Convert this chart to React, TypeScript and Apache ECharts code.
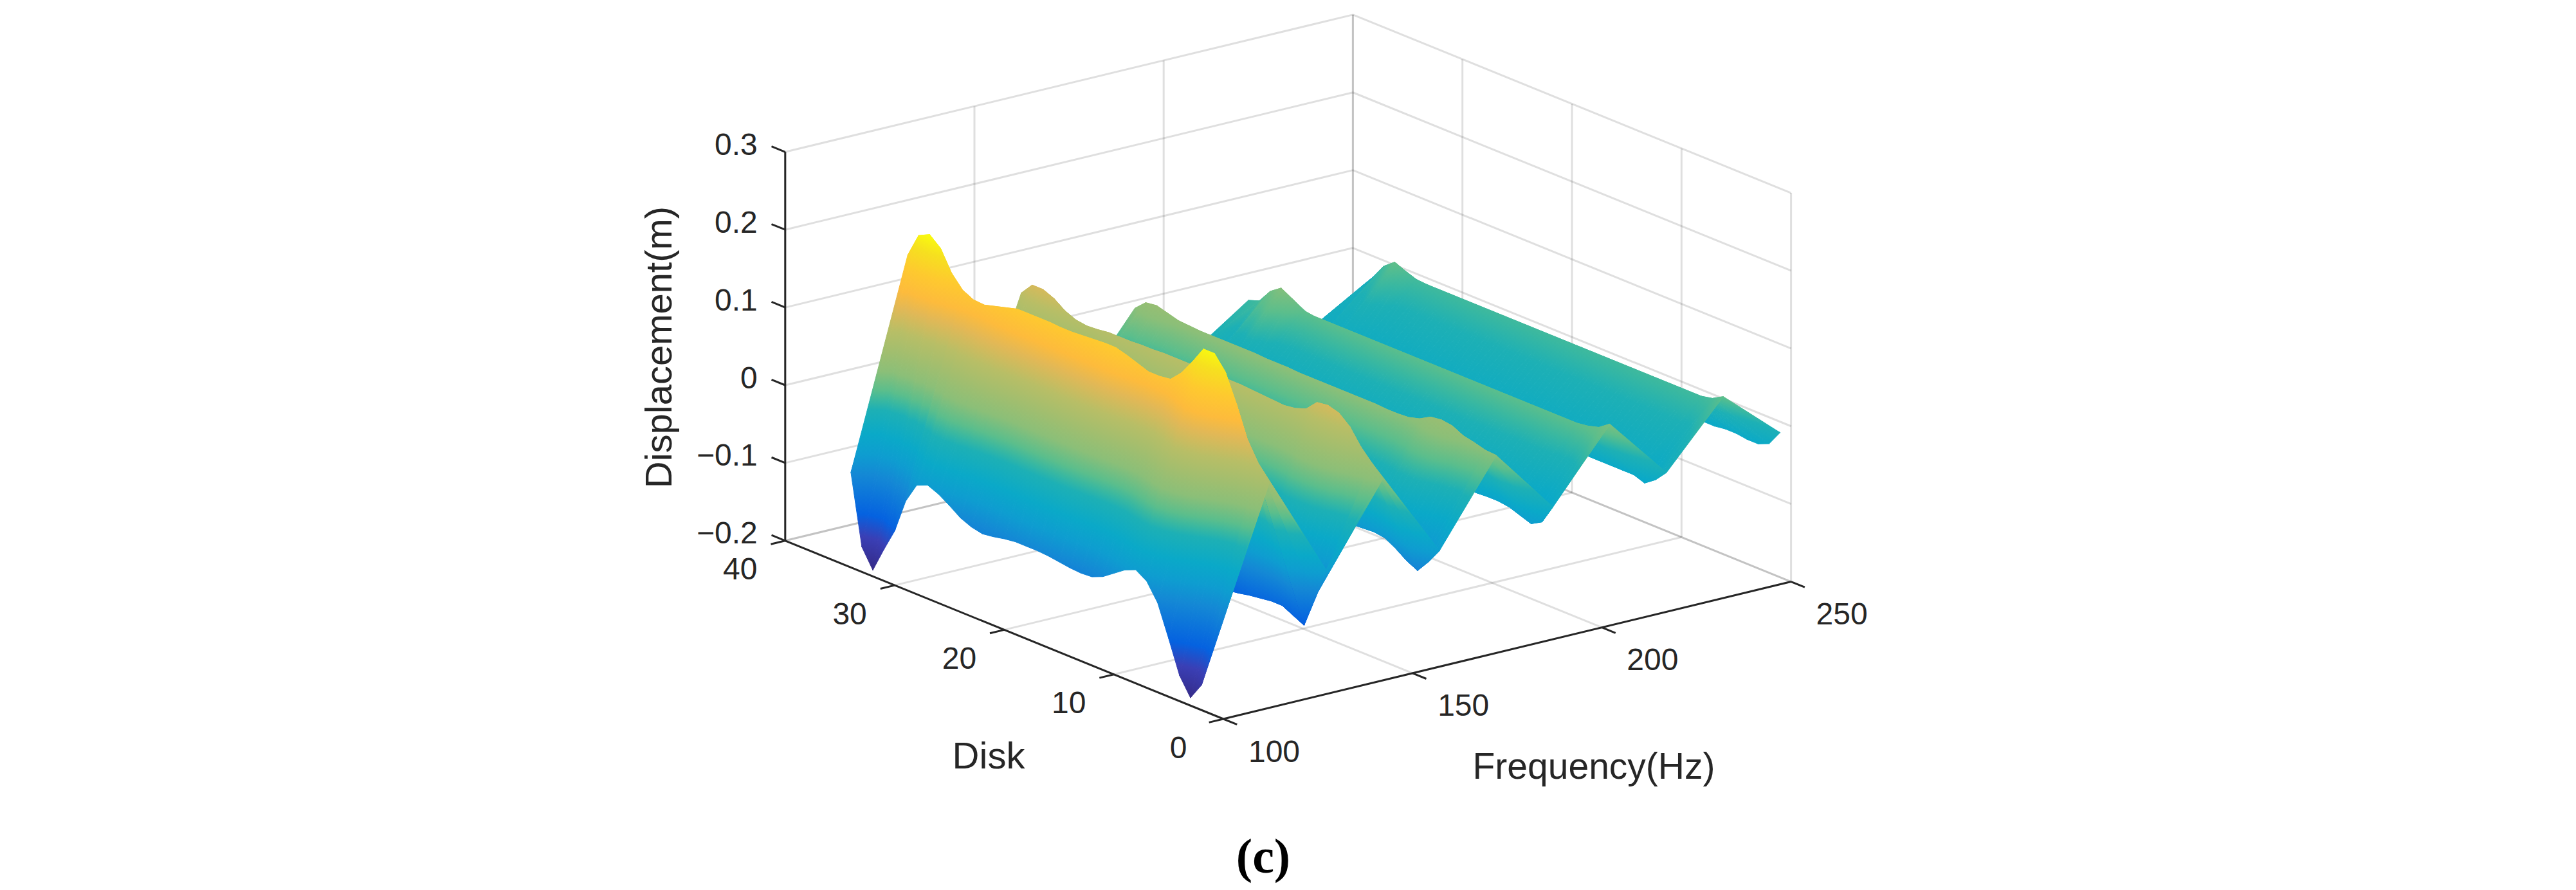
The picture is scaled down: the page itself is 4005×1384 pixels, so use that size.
import React, { useEffect, useRef } from "react";
import * as echarts from "echarts";

// ---- data ----
const freqTicks = [100, 150, 200, 250];
const diskTicks = [0, 10, 20, 30, 40];
const dispTicks = [-0.2, -0.1, 0, 0.1, 0.2, 0.3];
const dispTickLabels = ["\u22120.2", "\u22120.1", "0", "0.1", "0.2", "0.3"];

const disks = [1, 2, 3, 4, 5, 6, 7, 8, 9, 10, 11, 12, 13, 14, 15, 16, 17, 18, 19, 20, 21, 22, 23, 24, 25, 26, 27, 28, 29, 30, 31, 32, 33, 34];
const freqs = [100, 115, 130, 145, 160, 175, 190, 205, 220, 235, 250];

const z100 = [-0.118, -0.168, -0.19, -0.167, -0.125, -0.085, -0.063, -0.054, -0.06, -0.07, -0.08, -0.086, -0.087, -0.086, -0.084, -0.082, -0.081, -0.081, -0.081, -0.083, -0.086, -0.088, -0.085, -0.079, -0.069, -0.06, -0.054, -0.06, -0.086, -0.13, -0.16, -0.192, -0.168, -0.078];
const z115 = [0.08, 0.1, 0.125, 0.165, 0.2, 0.218, 0.218, 0.196, 0.176, 0.162, 0.16, 0.16, 0.165, 0.17, 0.174, 0.174, 0.173, 0.172, 0.171, 0.171, 0.172, 0.172, 0.172, 0.172, 0.168, 0.164, 0.16, 0.161, 0.168, 0.184, 0.21, 0.222, 0.215, 0.184];
const z130 = [-0.049, -0.09, -0.132, -0.125, -0.118, -0.118, -0.12, -0.122, -0.125, -0.127, -0.126, -0.125, -0.123, -0.12, -0.12, -0.12, -0.12, -0.12, -0.12, -0.12, -0.12, -0.12, -0.12, -0.12, -0.12, -0.12, -0.12, -0.12, -0.12, -0.125, -0.13, -0.13, -0.12, -0.1];
const z145 = [0.05, 0.065, 0.08, 0.1, 0.112, 0.116, 0.114, 0.1, 0.095, 0.093, 0.094, 0.095, 0.096, 0.097, 0.097, 0.097, 0.097, 0.097, 0.097, 0.097, 0.097, 0.096, 0.096, 0.095, 0.095, 0.095, 0.093, 0.092, 0.094, 0.1, 0.11, 0.116, 0.116, 0.1];
const z160 = [-0.06, -0.08, -0.097, -0.09, -0.08, -0.072, -0.07, -0.071, -0.072, -0.073, -0.074, -0.075, -0.075, -0.075, -0.075, -0.075, -0.075, -0.075, -0.075, -0.075, -0.075, -0.075, -0.075, -0.075, -0.075, -0.075, -0.075, -0.075, -0.075, -0.078, -0.08, -0.08, -0.07, -0.046];
const z175 = [0.045, 0.046, 0.05, 0.053, 0.06, 0.062, 0.06, 0.052, 0.048, 0.047, 0.047, 0.048, 0.048, 0.048, 0.048, 0.048, 0.048, 0.048, 0.048, 0.049, 0.049, 0.049, 0.05, 0.05, 0.05, 0.05, 0.05, 0.05, 0.051, 0.052, 0.056, 0.06, 0.058, 0.045];
const z190 = [-0.039, -0.064, -0.072, -0.067, -0.062, -0.06, -0.06, -0.061, -0.06, -0.06, -0.06, -0.06, -0.06, -0.06, -0.06, -0.06, -0.06, -0.06, -0.06, -0.06, -0.06, -0.06, -0.06, -0.06, -0.06, -0.06, -0.06, -0.06, -0.06, -0.06, -0.06, -0.06, -0.05, -0.03];
const z205 = [0.05, 0.04, 0.036, 0.034, 0.034, 0.034, 0.034, 0.034, 0.034, 0.034, 0.034, 0.034, 0.034, 0.034, 0.034, 0.034, 0.034, 0.034, 0.034, 0.034, 0.034, 0.034, 0.034, 0.034, 0.034, 0.034, 0.034, 0.034, 0.036, 0.045, 0.053, 0.043, 0.025, 0.02];
const z220 = [-0.03, -0.045, -0.055, -0.05, -0.05, -0.05, -0.05, -0.05, -0.05, -0.05, -0.05, -0.05, -0.05, -0.05, -0.05, -0.05, -0.05, -0.05, -0.05, -0.05, -0.05, -0.05, -0.05, -0.05, -0.05, -0.05, -0.05, -0.05, -0.05, -0.05, -0.05, -0.05, -0.045, -0.04];
const z235 = [0.05, 0.042, 0.039, 0.039, 0.039, 0.039, 0.039, 0.039, 0.039, 0.039, 0.039, 0.039, 0.039, 0.039, 0.039, 0.039, 0.039, 0.039, 0.039, 0.039, 0.039, 0.039, 0.039, 0.039, 0.039, 0.039, 0.039, 0.039, 0.04, 0.045, 0.051, 0.04, 0.02, 0.003];
const z250 = [-0.014, -0.034, -0.04, -0.04, -0.038, -0.038, -0.04, -0.04, -0.04, -0.04, -0.04, -0.04, -0.04, -0.04, -0.04, -0.04, -0.04, -0.04, -0.04, -0.04, -0.04, -0.04, -0.04, -0.04, -0.04, -0.04, -0.04, -0.04, -0.04, -0.04, -0.04, -0.04, -0.035, -0.02];
const zTable = [z100, z115, z130, z145, z160, z175, z190, z205, z220, z235, z250];

// colour ramp of the surface, by displacement
const rampZ = [-0.192, -0.155, -0.128, -0.08, -0.055, -0.03, 0, 0.012, 0.024, 0.047, 0.07, 0.097, 0.125, 0.145, 0.172, 0.2, 0.222];
const rampC = ["#352a87", "#3a3fb5", "#0562e0", "#1488d5", "#0e9dd0", "#0aa9c8", "#1db0b5", "#3ab8a0", "#5bbe8c", "#8bbf78", "#a0be6f", "#b8be66", "#e2b856", "#fdbb3c", "#fec92f", "#f6e01f", "#f9fb0e"];
// the far ridges and valleys read a little off what their height gives
const colourShift = [0, 0, 0, 0, 0.01, 0, 0.02, -0.01, 0.02, -0.025, 0.01];

// ---- view projection (an orthographic 3-D view) ----
const VIEW = { ox: 1902, oy: 1118, fx: 5.884, fy: -1.423, dx: -17.03, dy: -6.93, zy: -1209 };
const F0 = 100, Z0 = -0.2;
const project = (f: number, d: number, z: number): [number, number] => [
  VIEW.ox + VIEW.fx * (f - F0) + VIEW.dx * d,
  VIEW.oy + VIEW.fy * (f - F0) + VIEW.dy * d + VIEW.zy * (z - Z0),
];

const hex = (c: string) => [1, 3, 5].map((i) => parseInt(c.slice(i, i + 2), 16));
const colorAt = (z: number) => {
  if (z <= rampZ[0]) return rampC[0];
  for (let i = 1; i < rampZ.length; i++) {
    if (z <= rampZ[i]) {
      const t = (z - rampZ[i - 1]) / (rampZ[i] - rampZ[i - 1]);
      const a = hex(rampC[i - 1]), b = hex(rampC[i]);
      return `rgb(${a.map((v, k) => Math.round(v + (b[k] - v) * t)).join(",")})`;
    }
  }
  return rampC[rampC.length - 1];
};

// triangles, far ones first
const triangles: number[][] = [];
for (let i = freqs.length - 2; i >= 0; i--) {
  for (let j = disks.length - 2; j >= 0; j--) {
    const v = (a: number, b: number) => [freqs[a], disks[b], zTable[a][b]];
    triangles.push([...v(i + 1, j + 1), ...v(i + 1, j), ...v(i, j + 1)]);
    triangles.push([...v(i + 1, j), ...v(i, j + 1), ...v(i, j)]);
  }
}

const fMin = 100, fMax = 250, dMin = 0, dMax = 40, zMin = -0.2, zMax = 0.3;
// grid lines: f1,d1,z1,f2,d2,z2
const gridLines: number[][] = [];
freqTicks.forEach((f) => {
  gridLines.push([f, dMax, zMin, f, dMax, zMax]);
  gridLines.push([f, dMin, zMin, f, dMax, zMin]);
});
diskTicks.forEach((d) => {
  gridLines.push([fMax, d, zMin, fMax, d, zMax]);
  gridLines.push([fMin, d, zMin, fMax, d, zMin]);
});
dispTicks.forEach((z) => {
  gridLines.push([fMin, dMax, z, fMax, dMax, z]);
  gridLines.push([fMax, dMin, z, fMax, dMax, z]);
});
const TICK_D = 1.25, TICK_F = 3.8;
const axisLines: number[][] = [
  [fMin, dMax, zMin, fMin, dMax, zMax],
  [fMin, dMin, zMin, fMin, dMax, zMin],
  [fMin, dMin, zMin, fMax, dMin, zMin],
];
dispTicks.forEach((z) => axisLines.push([fMin, dMax, z, fMin, dMax + TICK_D, z]));
diskTicks.forEach((d) => axisLines.push([fMin, d, zMin, fMin - TICK_F, d, zMin]));
freqTicks.forEach((f) => axisLines.push([f, dMin, zMin, f, dMin - TICK_D, zMin]));

const INK = "#262626";
const SANS = '"Liberation Sans", Arial, sans-serif';
type Lab = { text: string; x: number; y: number; size: number; align?: string; rot?: number; serif?: boolean };
const labels: Lab[] = [];
dispTicks.forEach((z, i) => {
  const p = project(fMin, dMax, z);
  labels.push({ text: dispTickLabels[i], x: p[0] - 43, y: p[1] - 12, size: 48, align: "right" });
});
diskTicks.forEach((d) => {
  const p = project(fMin, d, zMin);
  labels.push({ text: String(d), x: p[0] - 70, y: p[1] + 44, size: 48 });
});
freqTicks.forEach((f) => {
  const p = project(f, dMin, zMin);
  labels.push({ text: String(f), x: p[0] + 79, y: p[1] + 50, size: 48 });
});
labels.push({ text: "Displacement(m)", x: 1023, y: 540, size: 58, rot: Math.PI / 2 });
labels.push({ text: "Disk", x: 1537, y: 1174, size: 58 });
labels.push({ text: "Frequency(Hz)", x: 2478, y: 1191, size: 57 });
labels.push({ text: "(c)", x: 1964, y: 1331, size: 76, serif: true });

function triangleItem(api: any) {
  const vals = [0, 1, 2, 3, 4, 5, 6, 7, 8].map((k) => api.value(k) as number);
  const pts: number[][] = [];
  const zs: number[] = [];
  for (let k = 0; k < 3; k++) {
    const [sx, sy] = project(vals[k * 3], vals[k * 3 + 1], vals[k * 3 + 2]);
    pts.push(api.coord([sx, sy]));
    zs.push(vals[k * 3 + 2] + colourShift[freqs.indexOf(vals[k * 3])]);
  }
  const x1 = pts[1][0] - pts[0][0], y1 = pts[1][1] - pts[0][1];
  const x2 = pts[2][0] - pts[0][0], y2 = pts[2][1] - pts[0][1];
  const z1 = zs[1] - zs[0], z2 = zs[2] - zs[0];
  const det = x1 * y2 - x2 * y1;
  const lo = Math.min(...zs), hi = Math.max(...zs);
  let fill: any = colorAt((lo + hi) / 2);
  if (Math.abs(det) > 1e-3 && hi - lo > 1e-4) {
    const a = (z1 * y2 - z2 * y1) / det;
    const b = (x1 * z2 - x2 * z1) / det;
    const g2 = a * a + b * b;
    const m = pts[zs.indexOf(lo)];
    const stops = [{ offset: 0, color: colorAt(lo) }];
    rampZ.forEach((rz, i) => {
      if (rz > lo && rz < hi) stops.push({ offset: (rz - lo) / (hi - lo), color: rampC[i] });
    });
    stops.push({ offset: 1, color: colorAt(hi) });
    fill = {
      type: "linear",
      global: true,
      x: m[0],
      y: m[1],
      x2: m[0] + (a * (hi - lo)) / g2,
      y2: m[1] + (b * (hi - lo)) / g2,
      colorStops: stops,
    };
  }
  return {
    type: "polygon",
    shape: { points: pts },
    style: { fill, stroke: fill, lineWidth: 1, lineJoin: "round" },
  };
}

function lineItem(api: any, stroke: string, lineWidth: number) {
  const a = api.coord(project(api.value(0), api.value(1), api.value(2)));
  const b = api.coord(project(api.value(3), api.value(4), api.value(5)));
  return {
    type: "line",
    shape: { x1: a[0], y1: a[1], x2: b[0], y2: b[1] },
    style: { stroke, lineWidth, fill: "none" },
  };
}

export default function App() {
  const ref = useRef<HTMLDivElement>(null);
  useEffect(() => {
    const chart = echarts.init(ref.current!, null, { renderer: "svg" });
    chart.setOption({
      animation: false,
      backgroundColor: "#ffffff",
      grid: { left: 0, right: 0, top: 0, bottom: 0 },
      xAxis: { type: "value", min: 0, max: 4005, show: false },
      yAxis: { type: "value", min: 0, max: 1384, inverse: true, show: false },
      series: [
        {
          type: "custom",
          name: "grid",
          silent: true,
          clip: false,
          data: gridLines,
          renderItem: (_p: any, api: any) => lineItem(api, "rgba(38,38,38,0.15)", 3),
        },
        {
          type: "custom",
          name: "surface",
          silent: true,
          clip: false,
          data: triangles,
          renderItem: (_p: any, api: any) => triangleItem(api),
        },
        {
          type: "custom",
          name: "axes",
          silent: true,
          clip: false,
          data: axisLines,
          renderItem: (_p: any, api: any) => lineItem(api, INK, 3),
        },
        {
          type: "custom",
          name: "labels",
          silent: true,
          clip: false,
          data: labels.map((_, i) => [i]),
          renderItem: (p: any, api: any) => {
            const l = labels[p.dataIndex];
            const c = api.coord([l.x, l.y]);
            return {
              type: "text",
              x: c[0],
              y: c[1],
              rotation: l.rot || 0,
              style: {
                text: l.text,
                x: 0,
                y: 0,
                fill: l.serif ? "#000000" : INK,
                font: `${l.serif ? "bold " : ""}${l.size}px ${l.serif ? '"Liberation Serif", serif' : SANS}`,
                align: l.align || "center",
                verticalAlign: "middle",
              },
            };
          },
        },
      ],
    });
    return () => chart.dispose();
  }, []);
  return <div ref={ref} style={{ position: "fixed", left: 0, top: 0, width: 4005, height: 1384 }} />;
}
